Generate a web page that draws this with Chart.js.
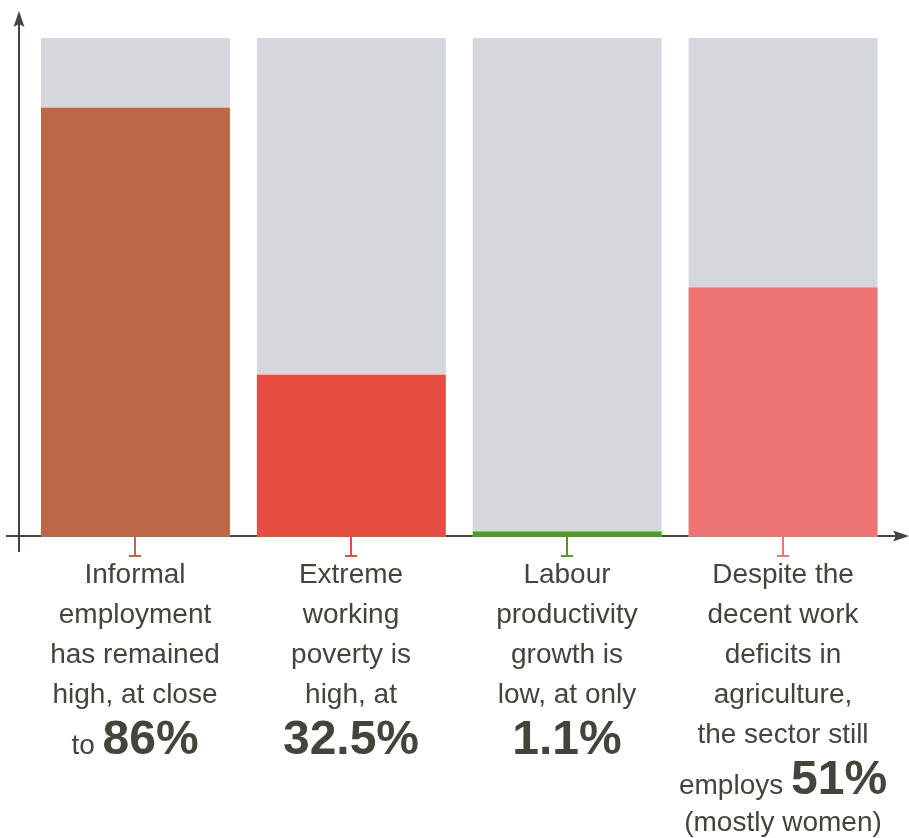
<!DOCTYPE html>
<html>
<head>
<meta charset="utf-8">
<script src="https://cdn.jsdelivr.net/npm/chart.js@4/dist/chart.umd.min.js"></script>
<style>
  html, body { margin: 0; padding: 0; background: #fff; }
  #wrap { width: 909px; height: 838px; }
</style>
</head>
<body>
<div id="wrap"><canvas id="chart"></canvas></div>
<script>
// data
const categories = ["Informal employment", "Extreme working poverty", "Labour productivity growth", "Agriculture employment"];
const values = [86, 32.5, 1.1, 50];
const totals = [100, 100, 100, 100];
const barColors = ["#bd6749", "#e64e44", "#4f9a2a", "#ec7574"];

// label lines under each bar, each line is a list of [text, bold]
const labelLines = [
  [[["Informal", false]], [["employment", false]], [["has remained", false]], [["high, at close", false]], [["to ", false], ["86%", true]]],
  [[["Extreme", false]], [["working", false]], [["poverty is", false]], [["high, at", false]], [["32.5%", true]]],
  [[["Labour", false]], [["productivity", false]], [["growth is", false]], [["low, at only", false]], [["1.1%", true]]],
  [[["Despite the", false]], [["decent work", false]], [["deficits in", false]], [["agriculture,", false]], [["the sector still", false]], [["employs ", false], ["51%", true]], [["(mostly women)", false]]]
];

const ink = "#46443a";
const grey = "#d4d7dc";
const normalFont = "28px 'Liberation Sans', Arial, sans-serif";
const boldFont = "bold 48px 'Liberation Sans', Arial, sans-serif";

const axesPlugin = {
  id: "axes",
  beforeDatasetsDraw(chart) {
    const ctx = chart.ctx;
    const y0 = chart.scales.y.getPixelForValue(0) - 1;
    ctx.save();
    ctx.strokeStyle = ink;
    ctx.fillStyle = ink;
    ctx.lineWidth = 2;
    // y axis
    ctx.beginPath();
    ctx.moveTo(19, 552);
    ctx.lineTo(19, 20);
    ctx.stroke();
    ctx.beginPath();
    ctx.moveTo(19, 11);
    ctx.lineTo(24.5, 27);
    ctx.lineTo(19, 24);
    ctx.lineTo(13.5, 27);
    ctx.closePath();
    ctx.fill();
    // x axis
    ctx.beginPath();
    ctx.moveTo(6, y0);
    ctx.lineTo(900, y0);
    ctx.stroke();
    ctx.beginPath();
    ctx.moveTo(909, y0);
    ctx.lineTo(893, y0 - 5.5);
    ctx.lineTo(896, y0);
    ctx.lineTo(893, y0 + 5.5);
    ctx.closePath();
    ctx.fill();
    ctx.restore();
  },
  afterDatasetsDraw(chart) {
    const ctx = chart.ctx;
    const xs = chart.scales.x;
    const yBase = chart.scales.y.getPixelForValue(0);
    ctx.save();
    categories.forEach((c, i) => {
      const cx = Math.round(xs.getPixelForValue(i));
      // tick mark
      ctx.fillStyle = barColors[i];
      ctx.fillRect(cx - 1, yBase, 2, 19);
      ctx.fillRect(cx - 6, yBase + 18, 12, 2);

      // label text
      let baseline = 583;
      labelLines[i].forEach((line, li) => {
        const big = line.some((s) => s[1]);
        if (li > 0) {
          const prevBig = labelLines[i][li - 1].some((s) => s[1]);
          baseline += big ? 51 : (prevBig ? 37 : 40);
        }
        let width = 0;
        line.forEach(([t, b]) => {
          ctx.font = b ? boldFont : normalFont;
          width += ctx.measureText(t).width;
        });
        let x = cx - width / 2;
        ctx.fillStyle = ink;
        ctx.textBaseline = "alphabetic";
        ctx.textAlign = "left";
        line.forEach(([t, b]) => {
          ctx.font = b ? boldFont : normalFont;
          ctx.fillText(t, x, baseline);
          x += ctx.measureText(t).width;
        });
      });
    });
    ctx.restore();
  }
};

new Chart(document.getElementById("chart"), {
  type: "bar",
  data: {
    labels: categories,
    datasets: [
      {
        label: "Value",
        data: values,
        backgroundColor: barColors,
        grouped: false,
        order: 1,
        barPercentage: 0.875,
        categoryPercentage: 1
      },
      {
        label: "Total",
        data: totals,
        backgroundColor: grey,
        grouped: false,
        order: 2,
        barPercentage: 0.875,
        categoryPercentage: 1
      }
    ]
  },
  options: {
    responsive: true,
    maintainAspectRatio: false,
    animation: false,
    layout: { padding: { left: 27.5, right: 18, top: 38, bottom: 301 } },
    plugins: {
      legend: { display: false },
      tooltip: { enabled: false }
    },
    scales: {
      x: { display: false },
      y: { display: false, min: 0, max: 100 }
    }
  },
  plugins: [axesPlugin]
});
</script>
</body>
</html>
